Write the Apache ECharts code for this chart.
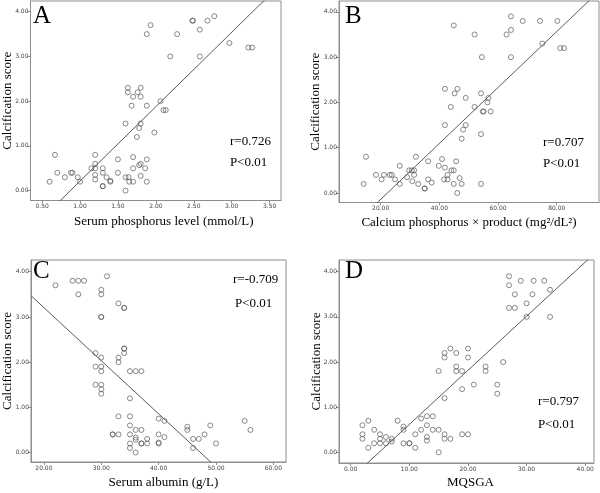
<!DOCTYPE html>
<html><head><meta charset="utf-8">
<script src="https://cdn.jsdelivr.net/npm/echarts@6/dist/echarts.min.js"></script>
<style>html,body{margin:0;padding:0;background:#fff}#c{width:600px;height:493px}</style>
</head><body><div id="c"></div>
<script>
// Panel A: serum phosphorus (mmol/L) vs calcification score
var pointsA = [[0.6,0.2],[0.67,0.8],[0.7,0.4],[0.8,0.3],[0.88,0.4],[0.9,0.4],[0.97,0.3],[1.0,0.2],[1.15,0.5],[1.2,0.8],[1.2,0.6],[1.2,0.5],[1.2,0.35],[1.2,0.25],[1.3,0.5],[1.3,0.4],[1.3,0.1],[1.3,0.1],[1.35,0.3],[1.4,0.22],[1.4,0.2],[1.5,0.7],[1.5,0.4],[1.6,1.5],[1.6,0.3],[1.6,0.0],[1.63,2.3],[1.63,2.2],[1.64,0.3],[1.65,0.2],[1.68,1.9],[1.7,2.1],[1.7,0.75],[1.7,0.5],[1.7,0.2],[1.76,2.2],[1.75,1.2],[1.78,1.4],[1.8,2.3],[1.8,2.1],[1.8,1.5],[1.78,0.57],[1.8,0.6],[1.8,0.33],[1.86,0.5],[1.88,0.7],[1.88,0.2],[1.88,3.5],[1.88,1.9],[1.93,3.7],[1.98,1.3],[2.06,2.0],[2.1,1.8],[2.13,1.8],[2.19,3.0],[2.28,3.5],[2.48,3.8],[2.49,3.8],[2.58,3.6],[2.58,3.0],[2.68,3.8],[2.77,3.9],[2.97,3.3],[3.22,3.2],[3.27,3.2]];
// Panel B: calcium-phosphorus product vs calcification score
var pointsB = [[14.2,0.2],[15.0,0.8],[18.4,0.4],[20.3,0.3],[21.1,0.4],[23.1,0.4],[23.8,0.4],[24.9,0.3],[26.5,0.6],[26.5,0.2],[29.0,0.35],[29.7,0.5],[30.6,0.5],[30.8,0.26],[31.4,0.4],[31.4,0.5],[32.0,0.8],[32.8,0.2],[35.0,0.1],[35.0,0.1],[36.2,0.7],[36.2,0.3],[37.4,0.23],[39.8,0.6],[40.9,0.75],[41.6,0.3],[41.9,0.56],[41.9,1.5],[41.9,2.3],[42.8,0.4],[42.8,0.3],[43.9,1.9],[44.1,0.5],[44.9,0.5],[44.9,0.2],[44.9,3.7],[45.2,2.2],[45.7,0.7],[46.2,2.3],[46.1,0.0],[46.9,0.33],[47.6,1.2],[47.6,0.2],[48.1,1.4],[49.0,1.5],[49.0,2.1],[52.0,3.5],[52.0,1.9],[54.2,2.2],[54.2,1.3],[54.2,0.2],[54.5,3.0],[54.8,1.8],[55.1,1.8],[56.4,2.0],[56.7,2.1],[57.5,1.8],[62.9,3.5],[64.4,3.6],[64.4,3.9],[64.4,3.0],[68.4,3.8],[74.3,3.8],[75.1,3.3],[80.2,3.8],[81.2,3.2],[82.5,3.2]];
// Panel C: serum albumin (g/L) vs calcification score
var pointsC = [[22,3.7],[25,3.8],[26,3.8],[27,3.8],[26,3.5],[31,3.9],[30,3.6],[30,3.5],[30,3.0],[30,3.0],[33,3.3],[34,3.2],[34,3.2],[29,2.2],[29,1.9],[29,1.5],[30,2.1],[30,1.9],[30,1.8],[30,1.5],[30,1.4],[30,1.3],[33,2.1],[33,2.0],[34,2.3],[34,2.3],[34,2.2],[35,1.8],[36,1.8],[37,1.8],[35,1.2],[33,0.8],[35,0.8],[35,0.6],[32,0.4],[32,0.4],[33,0.4],[35,0.4],[35,0.2],[35,0.1],[36,0.5],[36,0.33],[36,0.28],[36,0.0],[37,0.5],[37,0.2],[37,0.2],[38,0.3],[38,0.2],[40,0.75],[40,0.4],[40,0.22],[40,0.2],[41,0.7],[41,0.34],[45,0.57],[45,0.5],[46,0.3],[46,0.1],[47,0.3],[48,0.4],[49,0.6],[50,0.2],[55,0.7],[56,0.5]];
// Panel D: MQSGA vs calcification score
var pointsD = [[2,0.6],[2,0.4],[2,0.3],[3,0.7],[3,0.1],[4,0.5],[4,0.2],[5,0.4],[5,0.3],[5,0.2],[6,0.34],[6,0.2],[7,0.3],[7,0.24],[8,0.7],[9,0.57],[9,0.5],[9,0.2],[10,0.2],[10,0.2],[11,0.4],[11,0.1],[12,0.75],[12,0.5],[13,0.8],[13,0.6],[13,0.34],[13,0.26],[14,0.8],[14,0.5],[15,1.8],[15,0.5],[15,0.0],[16,2.2],[16,2.1],[16,1.2],[16,0.4],[16,0.3],[17,2.3],[17,0.3],[18,2.2],[18,1.9],[18,1.8],[19,1.8],[19,1.4],[19,0.4],[20,2.3],[20,2.1],[20,0.4],[21,1.5],[23,1.9],[23,1.8],[25,1.5],[25,1.3],[26,2.0],[27,3.9],[27,3.7],[27,3.2],[28,3.5],[28,3.2],[29,3.8],[30,3.3],[30,3.0],[31,3.5],[31.2,3.8],[33,3.8],[34,3.6],[34,3.0]];
// Fitted regression lines: [slope, intercept]
var fitA = [1.664, -1.451];
var fitB = [0.0618, -1.378];
var fitC = [-0.1175, 5.556];
var fitD = [0.1198, -0.579];
// Tick labels
var ticksY = [0, 1, 2, 3, 4];
var ticksXA = [0.5, 1.0, 1.5, 2.0, 2.5, 3.0, 3.5];
var ticksXB = [20, 40, 60, 80];
var ticksXC = [20, 30, 40, 50, 60];
var ticksXD = [0, 10, 20, 30, 40];
var stats = [["A","r=0.726","P<0.01"],["B","r=0.707","P<0.01"],["C","r=-0.709","P<0.01"],["D","r=0.797","P<0.01"]];
var xNames = ["Serum phosphorus level (mmol/L)", "Calcium phosphorus \u00d7 product (mg\u00b2/dL\u00b2)", "Serum albumin (g/L)", "MQSGA"];
var yName = "Calcification score";

var serif = "Liberation Serif";
var frame = "#8e8e8e";
var panels = [
  {grid:{left:29, top:1, width:252, height:199.5}, x:[0.347,3.65], y:[-0.22,4.24], ticks:ticksXA, pts:pointsA, fit:fitA, ygap:16.5, xgap:15, xshift:16},
  {grid:{left:339, top:1, width:260, height:201.5}, x:[5.8,94.4], y:[-0.21,4.24], ticks:ticksXB, pts:pointsB, fit:fitB, ygap:16.5, xgap:13.7, xshift:0},
  {grid:{left:29, top:260, width:257, height:202}, x:[17.75,62.2], y:[-0.21,4.26], ticks:ticksXC, pts:pointsC, fit:fitC, ygap:17, xgap:14.5, xshift:10},
  {grid:{left:339, top:260, width:255, height:203}, x:[-2.0,41.5], y:[-0.236,4.26], ticks:ticksXD, pts:pointsD, fit:fitD, ygap:16, xgap:13.5, xshift:8}
];
var textPos = [
  {L:[33,15], r:[230,141.7], p:[230,163]},
  {L:[345,15], r:[543,142.7], p:[543,163.7]},
  {L:[33,270], r:[233,280], p:[235,304]},
  {L:[345,270], r:[538,402], p:[538,425]}
];

var grids=[], xAxes=[], yAxes=[], series=[], graphics=[];
panels.forEach(function(p, i){
  grids.push(Object.assign({show:true, borderColor:frame, borderWidth:1, backgroundColor:'transparent'}, p.grid));
  xAxes.push({type:'value', gridIndex:i, min:p.x[0], max:p.x[1],
    name:xNames[i], nameLocation:'middle', nameGap:p.xgap, nameMoveOverlap:false,
    nameTextStyle:{fontFamily:serif, fontSize:13, color:'#000', padding:[0,0,0,p.xshift]},
    axisLine:{show:true, onZero:false, lineStyle:{color:frame}},
    axisTick:{show:true, customValues:p.ticks, length:3, lineStyle:{color:frame}},
    axisLabel:{customValues:p.ticks, margin:3, fontSize:6, color:'#444', fontFamily:'DejaVu Sans', formatter:function(v){return v.toFixed(2);}},
    splitLine:{show:false}});
  yAxes.push({type:'value', gridIndex:i, min:p.y[0], max:p.y[1],
    name:yName, nameLocation:'middle', nameGap:p.ygap, nameMoveOverlap:false,
    nameTextStyle:{fontFamily:serif, fontSize:13, color:'#000'},
    axisLine:{show:true, onZero:false, lineStyle:{color:frame}},
    axisTick:{show:true, customValues:ticksY, length:3, lineStyle:{color:frame}},
    axisLabel:{customValues:ticksY, margin:2, fontSize:6, color:'#444', fontFamily:'DejaVu Sans', formatter:function(v){return v.toFixed(2);}},
    splitLine:{show:false}});
  series.push({type:'scatter', xAxisIndex:i, yAxisIndex:i, data:p.pts, symbol:'circle', symbolSize:5,
    itemStyle:{color:'rgba(255,255,255,0)', borderColor:'#5a5a5a', borderWidth:0.9}, silent:true, animation:false});
  var x0=p.x[0], x1=p.x[1];
  series.push({type:'line', xAxisIndex:i, yAxisIndex:i, clip:true, symbol:'none', silent:true, animation:false,
    data:[[x0, p.fit[0]*x0+p.fit[1]],[x1, p.fit[0]*x1+p.fit[1]]],
    lineStyle:{color:'#5a5a5a', width:1}});
  var t=textPos[i];
  graphics.push({type:'text', left:t.L[0], top:t.L[1]-11.5, style:{text:stats[i][0], font:'25px '+serif, fill:'#000'}});
  graphics.push({type:'text', x:t.r[0], y:t.r[1], style:{text:stats[i][1], font:'13px '+serif, fill:'#000', verticalAlign:'middle'}});
  graphics.push({type:'text', x:t.p[0], y:t.p[1], style:{text:stats[i][2], font:'13px '+serif, fill:'#000', verticalAlign:'middle'}});
});

var chart = echarts.init(document.getElementById('c'), null, {renderer:'canvas'});
chart.setOption({animation:false, grid:grids, xAxis:xAxes, yAxis:yAxes, series:series, graphic:graphics});
</script></body></html>
